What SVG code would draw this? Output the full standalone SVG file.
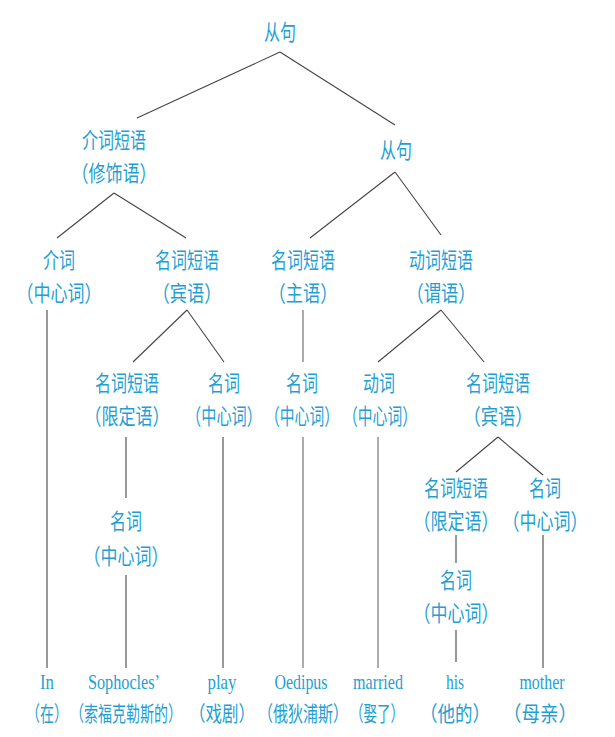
<svg xmlns="http://www.w3.org/2000/svg" width="615" height="737" viewBox="0 0 615 737">
<style>
.t{font-family:"Noto Sans CJK SC","Noto Sans CJK TC",sans-serif;font-size:16px;fill:#1ea0d4;text-anchor:middle}
.t15{font-size:15px}
.t14{font-size:14px}
.e{font-family:"Liberation Serif",serif;font-size:21px;fill:#1ea0d4;text-anchor:middle}
.c line{stroke:#444;stroke-width:1.1;fill:none}
.c line.g{stroke:#999;stroke-width:1.6}
</style>
<rect width="615" height="737" fill="#fff"/>
<g class="c" id="connectors">
<line x1="280" y1="52" x2="137" y2="118"/>
<line x1="280" y1="52" x2="395" y2="125"/>
<line x1="114" y1="193" x2="57" y2="238"/>
<line x1="114" y1="193" x2="186" y2="238"/>
<line x1="395" y1="172" x2="310" y2="238"/>
<line x1="395" y1="172" x2="441" y2="235"/>
<line x1="47" y1="310" x2="47" y2="668"/>
<line x1="187" y1="310" x2="133" y2="362"/>
<line x1="187" y1="310" x2="224" y2="362"/>
<line class="g" x1="303" y1="310" x2="303" y2="362"/>
<line x1="441" y1="310" x2="378" y2="362"/>
<line x1="441" y1="310" x2="484" y2="362"/>
<line x1="126" y1="437" x2="126" y2="498"/>
<line x1="126" y1="575" x2="126" y2="668"/>
<line x1="223" y1="437" x2="223" y2="668"/>
<line class="g" x1="303" y1="437" x2="303" y2="668"/>
<line class="g" x1="378" y1="437" x2="378" y2="668"/>
<line x1="498" y1="437" x2="456" y2="472"/>
<line x1="498" y1="437" x2="543" y2="475"/>
<line x1="456" y1="535" x2="456" y2="563"/>
<line x1="456" y1="630" x2="456" y2="662"/>
<line x1="543" y1="535" x2="543" y2="668"/>
</g>
<g id="n_root"><text class="t" x="280" y="40" transform="translate(280 40) scale(1 1.375) translate(-280 -40)">从句</text></g>
<g id="n_pp"><text class="t" x="114" y="148" transform="translate(114 148) scale(1 1.375) translate(-114 -148)">介词短语</text><text class="t" x="114" y="181" textLength="85" lengthAdjust="spacingAndGlyphs" transform="translate(114 181) scale(1 1.375) translate(-114 -181)">（修饰语）</text></g>
<g id="n_clause"><text class="t" x="396" y="158" transform="translate(396 158) scale(1 1.375) translate(-396 -158)">从句</text></g>
<g id="n_prep"><text class="t" x="59" y="268" transform="translate(59 268) scale(1 1.375) translate(-59 -268)">介词</text><text class="t" x="59" y="301" textLength="85" lengthAdjust="spacingAndGlyphs" transform="translate(59 301) scale(1 1.375) translate(-59 -301)">（中心词）</text></g>
<g id="n_np_obj"><text class="t" x="187" y="268" transform="translate(187 268) scale(1 1.375) translate(-187 -268)">名词短语</text><text class="t" x="187" y="301" textLength="69" lengthAdjust="spacingAndGlyphs" transform="translate(187 301) scale(1 1.375) translate(-187 -301)">（宾语）</text></g>
<g id="n_np_subj"><text class="t" x="303" y="268" transform="translate(303 268) scale(1 1.375) translate(-303 -268)">名词短语</text><text class="t" x="303" y="301" textLength="69" lengthAdjust="spacingAndGlyphs" transform="translate(303 301) scale(1 1.375) translate(-303 -301)">（主语）</text></g>
<g id="n_vp"><text class="t" x="441" y="268" transform="translate(441 268) scale(1 1.375) translate(-441 -268)">动词短语</text><text class="t" x="441" y="301" textLength="69" lengthAdjust="spacingAndGlyphs" transform="translate(441 301) scale(1 1.375) translate(-441 -301)">（谓语）</text></g>
<g id="n_np_det"><text class="t" x="127" y="391" transform="translate(127 391) scale(1 1.375) translate(-127 -391)">名词短语</text><text class="t" x="127" y="424" textLength="85" lengthAdjust="spacingAndGlyphs" transform="translate(127 424) scale(1 1.375) translate(-127 -424)">（限定语）</text></g>
<g id="n_n_play"><text class="t" x="224" y="391" transform="translate(224 391) scale(1 1.375) translate(-224 -391)">名词</text><text class="t t15" x="224" y="424" textLength="76" lengthAdjust="spacingAndGlyphs" transform="translate(224 424) scale(1 1.467) translate(-224 -424)">（中心词）</text></g>
<g id="n_n_oed"><text class="t" x="302" y="391" transform="translate(302 391) scale(1 1.375) translate(-302 -391)">名词</text><text class="t t15" x="302" y="424" textLength="74" lengthAdjust="spacingAndGlyphs" transform="translate(302 424) scale(1 1.467) translate(-302 -424)">（中心词）</text></g>
<g id="n_v"><text class="t" x="379" y="391" transform="translate(379 391) scale(1 1.375) translate(-379 -391)">动词</text><text class="t t15" x="380" y="424" textLength="74" lengthAdjust="spacingAndGlyphs" transform="translate(380 424) scale(1 1.467) translate(-380 -424)">（中心词）</text></g>
<g id="n_np_obj2"><text class="t" x="498" y="391" transform="translate(498 391) scale(1 1.375) translate(-498 -391)">名词短语</text><text class="t" x="498" y="424" textLength="69" lengthAdjust="spacingAndGlyphs" transform="translate(498 424) scale(1 1.375) translate(-498 -424)">（宾语）</text></g>
<g id="n_n_soph"><text class="t" x="126" y="529" transform="translate(126 529) scale(1 1.375) translate(-126 -529)">名词</text><text class="t" x="126" y="564" textLength="85" lengthAdjust="spacingAndGlyphs" transform="translate(126 564) scale(1 1.375) translate(-126 -564)">（中心词）</text></g>
<g id="n_np_det2"><text class="t" x="456" y="496" transform="translate(456 496) scale(1 1.375) translate(-456 -496)">名词短语</text><text class="t" x="456" y="529" textLength="85" lengthAdjust="spacingAndGlyphs" transform="translate(456 529) scale(1 1.375) translate(-456 -529)">（限定语）</text></g>
<g id="n_n_mother"><text class="t" x="545" y="496" transform="translate(545 496) scale(1 1.375) translate(-545 -496)">名词</text><text class="t" x="545" y="529" textLength="85" lengthAdjust="spacingAndGlyphs" transform="translate(545 529) scale(1 1.375) translate(-545 -529)">（中心词）</text></g>
<g id="n_n_his"><text class="t" x="456" y="588" transform="translate(456 588) scale(1 1.375) translate(-456 -588)">名词</text><text class="t" x="456" y="621" textLength="85" lengthAdjust="spacingAndGlyphs" transform="translate(456 621) scale(1 1.375) translate(-456 -621)">（中心词）</text></g>
<g id="w_in"><text class="e" x="47" y="689" textLength="14" lengthAdjust="spacingAndGlyphs">In</text><text class="t t14" x="47" y="721" textLength="42" lengthAdjust="spacingAndGlyphs" transform="translate(47 721) scale(1 1.5) translate(-47 -721)">（在）</text></g>
<g id="w_soph"><text class="e" x="124" y="689" textLength="72" lengthAdjust="spacingAndGlyphs">Sophocles’</text><text class="t t14" x="126" y="721" textLength="112" lengthAdjust="spacingAndGlyphs" transform="translate(126 721) scale(1 1.5) translate(-126 -721)">（索福克勒斯的）</text></g>
<g id="w_play"><text class="e" x="222" y="689" textLength="29" lengthAdjust="spacingAndGlyphs">play</text><text class="t t14" x="222" y="721" textLength="66" lengthAdjust="spacingAndGlyphs" transform="translate(222 721) scale(1 1.5) translate(-222 -721)">（戏剧）</text></g>
<g id="w_oed"><text class="e" x="301" y="689" textLength="53" lengthAdjust="spacingAndGlyphs">Oedipus</text><text class="t t14" x="303" y="721" textLength="90" lengthAdjust="spacingAndGlyphs" transform="translate(303 721) scale(1 1.5) translate(-303 -721)">（俄狄浦斯）</text></g>
<g id="w_married"><text class="e" x="378" y="689" textLength="50" lengthAdjust="spacingAndGlyphs">married</text><text class="t t14" x="377" y="721" textLength="54" lengthAdjust="spacingAndGlyphs" transform="translate(377 721) scale(1 1.5) translate(-377 -721)">（娶了）</text></g>
<g id="w_his"><text class="e" x="455" y="689" textLength="18" lengthAdjust="spacingAndGlyphs">his</text><text class="t t14" x="455" y="721" textLength="70" lengthAdjust="spacingAndGlyphs" transform="translate(455 721) scale(1 1.5) translate(-455 -721)">（他的）</text></g>
<g id="w_mother"><text class="e" x="542" y="689" textLength="45" lengthAdjust="spacingAndGlyphs">mother</text><text class="t t14" x="540" y="721" textLength="74" lengthAdjust="spacingAndGlyphs" transform="translate(540 721) scale(1 1.5) translate(-540 -721)">（母亲）</text></g>
</svg>
